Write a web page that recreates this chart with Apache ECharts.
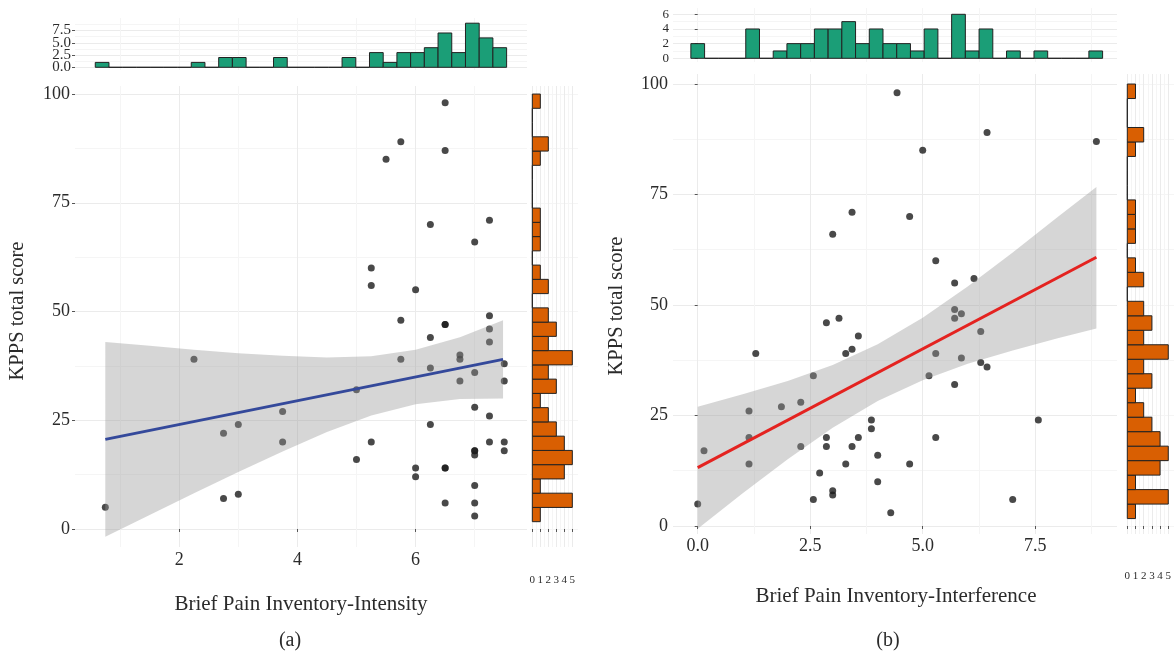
<!DOCTYPE html>
<html><head><meta charset="utf-8">
<script src="https://cdn.jsdelivr.net/npm/echarts@6/dist/echarts.min.js"></script>
<style>html,body{margin:0;padding:0;background:#fff}#c{width:1175px;height:654px}</style>
</head><body><div id="c"></div>
<script>
// ---------------- Panel (a): BPI Intensity vs KPPS ----------------
const bpiIntensity = [0.75,2.25,2.75,2.75,3.0,3.0,3.75,3.75,5.0,5.0,5.25,5.25,5.25,5.5,5.75,5.75,5.75,6.0,6.0,6.0,
  6.25,6.25,6.25,6.25,6.5,6.5,6.5,6.5,6.5,6.5,6.5,6.75,6.75,6.75,7.0,7.0,7.0,7.0,7.0,7.0,7.0,7.0,7.0,
  7.25,7.25,7.25,7.25,7.25,7.25,7.5,7.5,7.5,7.5];
const kppsA = [5,39,22,7,24,8,27,20,32,16,60,56,20,85,89,48,39,55,14,12,
  70,44,37,24,98,87,47,47,14,14,6,40,39,34,66,36,28,18,18,17,10,6,3,
  71,49,46,43,26,20,38,34,20,18];
// fitted line
const fitAx = [0.75, 7.48];
const fitAy = [20.6, 39.0];
// confidence band
const bandAx     = [0.75, 1.5, 2.25, 3.0, 3.75, 4.5, 5.25, 6.0, 6.75, 7.48];
const bandAupper = [43.0, 42.1, 41.2, 40.4, 39.8, 39.4, 39.7, 41.2, 44.1, 48.0];
const bandAlower = [-1.8, 3.2, 8.2, 13.1, 17.8, 22.3, 26.1, 28.7, 29.9, 30.0];
// marginal histogram on x (bin start, width, counts)
const histAxStart = 0.58, histAxWidth = 0.232;
const histAxCounts = [1,0,0,0,0,0,0,1,0,2,2,0,0,2,0,0,0,0,2,0,3,1,3,3,4,7,3,9,6,4];

// ---------------- Panel (b): BPI Interference vs KPPS ----------------
const bpiInterference = [0,0.14,1.14,1.14,1.14,1.29,1.86,2.29,2.29,2.57,2.57,2.71,2.86,2.86,2.86,3.0,3.0,3.0,
  3.14,3.29,3.29,3.43,3.43,3.43,3.57,3.57,3.86,3.86,4.0,4.0,4.29,4.43,4.71,4.71,5.0,5.14,5.29,5.29,5.29,
  5.71,5.71,5.71,5.71,5.86,5.86,6.14,6.29,6.29,6.43,6.43,7.0,7.57,8.86];
const kppsB = [5,17,26,20,14,39,27,28,18,34,6,12,46,20,18,66,8,7,
  47,39,14,71,40,18,43,20,24,22,16,10,3,98,70,14,85,34,60,39,20,
  55,49,47,32,48,38,56,44,37,89,36,6,24,87];
const fitBx = [0, 8.86];
const fitBy = [13.2, 60.8];
const bandBx     = [0, 1, 2, 3, 4, 5, 6, 7, 8, 8.86];
const bandBupper = [27.0, 29.8, 32.8, 36.4, 41.1, 47.1, 54.2, 61.9, 69.9, 76.7];
const bandBlower = [-0.6, 7.4, 15.1, 22.2, 28.3, 33.0, 36.7, 39.7, 42.5, 44.7];
const histBxStart = -0.152, histBxWidth = 0.305;
const histBxCounts = [2,0,0,0,4,0,1,2,2,4,4,5,2,4,2,2,1,4,0,6,1,4,0,1,0,1,0,0,0,1];

// marginal histogram on KPPS (shared by both panels)
const histYStart = 1.68, histYWidth = 3.277;
const histYCounts = [1,5,1,4,5,4,3,2,1,3,2,5,2,3,2,0,2,1,0,1,1,1,0,0,0,1,2,0,0,1];

// tick labels
const ticksAx = [2,4,6], minorAx = [1,3,5,7];
const ticksY = [0,25,50,75,100], minorY = [12.5,37.5,62.5,87.5];
const ticksBx = [0,2.5,5,7.5], minorBx = [1.25,3.75,6.25,8.75];
const ticksHistAy = [0,2.5,5,7.5], minorHistAy = [1.25,3.75,6.25,8.75];
const ticksHistBy = [0,2,4,6], minorHistBy = [1,3,5];
const ticksCount = [0,1,2,3,4,5], minorCount = [0.5,1.5,2.5,3.5,4.5];

// ---------------- helpers ----------------
const FONT = 'Liberation Serif';
const TXT = '#2b2b2b';
function axes(dim, gridIndex, min, max, major, minor, opt) {
  opt = opt || {};
  const base = {type:'value', gridIndex, min, max, axisLine:{show:false},
    position: dim === 'x' ? 'bottom' : 'left', offset: 0};
  const a1 = Object.assign({}, base, {
    axisTick:{show:opt.ticks!==false, length:3, lineStyle:{color:'#555'}, customValues:major},
    axisLabel:{show:opt.labels!==false, customValues:major, fontFamily:FONT, fontSize:opt.fontSize||18, color:TXT,
      hideOverlap:false, showMinLabel:true, showMaxLabel:true,
      margin:(opt.margin!==undefined?opt.margin:5), formatter:opt.fmt||(v=>String(v))},
    splitLine:{show:true, lineStyle:{color:'#ebebeb', width:1}}
  });
  const a2 = Object.assign({}, base, {
    axisTick:{show:false, customValues:minor},
    axisLabel:{show:false, customValues:minor},
    splitLine:{show:true, lineStyle:{color:'#f5f5f5', width:1}}
  });
  return [a1, a2];
}
function histTop(counts, start, width, xi, yi, color) {
  return {type:'custom', xAxisIndex:xi, yAxisIndex:yi, z:3,
    data: counts.map((c,i)=>[start+i*width, start+(i+1)*width, c]),
    encode:{x:[0,1], y:2},
    renderItem:(p, api)=>{
      const a = api.coord([api.value(0), api.value(2)]);
      const b = api.coord([api.value(1), 0]);
      return {type:'rect', shape:{x:a[0], y:a[1], width:b[0]-a[0], height:b[1]-a[1]},
        style:{fill:color, stroke:'#222', lineWidth:1}};
    }};
}
function histRight(counts, start, width, xi, yi, color) {
  return {type:'custom', xAxisIndex:xi, yAxisIndex:yi, z:3,
    data: counts.map((c,i)=>[start+i*width, start+(i+1)*width, c]),
    encode:{y:[0,1], x:2},
    renderItem:(p, api)=>{
      const a = api.coord([0, api.value(1)]);
      const b = api.coord([api.value(2), api.value(0)]);
      return {type:'rect', shape:{x:a[0], y:a[1], width:b[0]-a[0], height:b[1]-a[1]},
        style:{fill:color, stroke:'#222', lineWidth:1}};
    }};
}
function band(xs, up, lo, xi, yi) {
  return {type:'custom', xAxisIndex:xi, yAxisIndex:yi, z:5, data:[[xs[0], up[0]]],
    renderItem:(p, api)=>{
      const pts = [];
      for (let i=0;i<xs.length;i++) pts.push(api.coord([xs[i], up[i]]));
      for (let i=xs.length-1;i>=0;i--) pts.push(api.coord([xs[i], lo[i]]));
      return {type:'polygon', shape:{points:pts}, style:{fill:'rgba(153,153,153,0.4)'}};
    }};
}
function fit(xs, ys, xi, yi, color) {
  return {type:'line', xAxisIndex:xi, yAxisIndex:yi, z:6, symbol:'none', silent:true,
    data: xs.map((x,i)=>[x, ys[i]]), lineStyle:{color, width:3}};
}
function pts(xs, ys, xi, yi) {
  return {type:'scatter', xAxisIndex:xi, yAxisIndex:yi, z:4, symbolSize:7,
    itemStyle:{color:'#1c1c1c'}, data: xs.map((x,i)=>[x, ys[i]])};
}

// grids: 0 A scatter, 1 A top, 2 A right, 3 B scatter, 4 B top, 5 B right
const grids = [
  {left:75, top:86, width:452, height:461},
  {left:75, top:18, width:452, height:52},
  {left:530, top:86, width:48, height:461},
  {left:673, top:74, width:444, height:460},
  {left:673, top:8, width:444, height:54},
  {left:1126, top:74, width:48, height:460}
];
const fmt1 = v => v.toFixed(1);
const xAxis = [], yAxis = [];
// A scatter
xAxis.push(...axes('x',0,0.237,7.885,ticksAx,minorAx,{margin:4}));
yAxis.push(...axes('y',0,-4.14,101.84,ticksY,minorY,{}));
// A top (labels split over two axes so none are dropped as overlapping)
const histAyEven = ticksHistAy.filter((v,i)=>i%2===0), histAyOdd = ticksHistAy.filter((v,i)=>i%2===1);
xAxis.push(...axes('x',1,0.237,7.885,[],minorAx.concat(ticksAx),{labels:false,ticks:false}));
yAxis.push(...axes('y',1,-0.55,10.06,histAyEven,minorHistAy,{fontSize:15,fmt:fmt1,margin:4}));
// A right
xAxis.push(...axes('x',2,-0.29,5.71,ticksCount,minorCount,{fontSize:11,margin:28}));
yAxis.push(...axes('y',2,-4.14,101.84,[],minorY.concat(ticksY),{labels:false,ticks:false}));
// B scatter
xAxis.push(...axes('x',3,-0.549,9.318,ticksBx,minorBx,{fmt:fmt1,margin:3}));
yAxis.push(...axes('y',3,-1.81,102.26,ticksY,minorY,{}));
// B top
xAxis.push(...axes('x',4,-0.549,9.318,[],minorBx.concat(ticksBx),{labels:false,ticks:false}));
yAxis.push(...axes('y',4,-0.505,6.86,ticksHistBy,minorHistBy,{fontSize:13,margin:4}));
// B right
xAxis.push(...axes('x',5,-0.16,5.70,ticksCount,minorCount,{fontSize:11,margin:37}));
yAxis.push(...axes('y',5,-1.81,102.26,[],minorY.concat(ticksY),{labels:false,ticks:false}));
// extra A-top y axis carrying the other half of the labels (index 12)
yAxis.push(axes('y',1,-0.55,10.06,histAyOdd,[],{fontSize:15,fmt:fmt1,margin:4})[0]);

const GREEN = '#1b9e77', ORANGE = '#d95f02';
const series = [
  pts(bpiIntensity, kppsA, 0, 0),
  band(bandAx, bandAupper, bandAlower, 0, 0),
  fit(fitAx, fitAy, 0, 0, '#34499b'),
  histTop(histAxCounts, histAxStart, histAxWidth, 2, 2, GREEN),
  histRight(histYCounts, histYStart, histYWidth, 4, 4, ORANGE),
  pts(bpiInterference, kppsB, 6, 6),
  band(bandBx, bandBupper, bandBlower, 6, 6),
  fit(fitBx, fitBy, 6, 6, '#e42320'),
  histTop(histBxCounts, histBxStart, histBxWidth, 8, 8, GREEN),
  histRight(histYCounts, histYStart, histYWidth, 10, 10, ORANGE)
];

function txt(x, y, s, size, rot) {
  return {type:'text', x, y, rotation: rot||0,
    style:{text:s, font:`${size}px "${FONT}"`, fill:TXT, align:'center', verticalAlign:'middle'}};
}
const graphic = [
  txt(301, 604, 'Brief Pain Inventory-Intensity', 21),
  txt(896, 596, 'Brief Pain Inventory-Interference', 21),
  txt(18, 311, 'KPPS total score', 20.5, Math.PI/2),
  txt(617, 306, 'KPPS total score', 20.5, Math.PI/2),
  txt(290, 641, '(a)', 20),
  txt(888, 641, '(b)', 20)
];

const chart = echarts.init(document.getElementById('c'), null, {renderer:'canvas'});
chart.setOption({animation:false, backgroundColor:'#fff', grid:grids, xAxis, yAxis, series, graphic});
</script></body></html>
